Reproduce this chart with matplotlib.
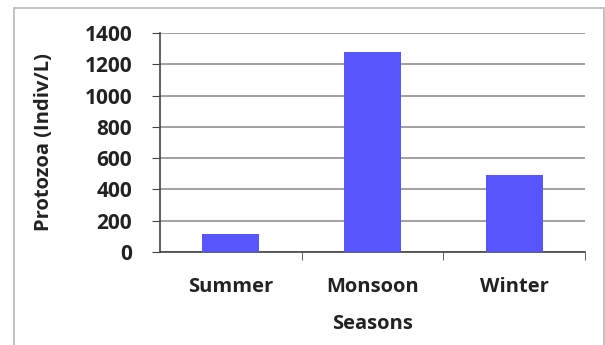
import matplotlib.pyplot as plt
from matplotlib.patches import Rectangle

seasons = ["Summer", "Monsoon", "Winter"]
protozoa = [115, 1277, 492]
yticks = [0, 200, 400, 600, 800, 1000, 1200, 1400]

plt.rcParams['font.family'] = ['Open Sans', 'DejaVu Sans']
plt.rcParams['font.weight'] = 'bold'

fig = plt.figure(figsize=(6.05, 3.45), dpi=100)
ax = fig.add_axes([160/605, 1 - 252/345, 425/605, 219/345])

# light grey frame round the whole chart
fig.patches.append(Rectangle((14/605, -0.05), 590/605, 1.05 - 8/345, transform=fig.transFigure,
                             fill=False, edgecolor='#b8b8b8', lw=1.2))

x = range(len(seasons))
ax.bar(x, protozoa, width=0.4, color='#5656fc', zorder=3)

ax.set_xlim(-0.5, 2.5)
ax.set_ylim(0, 1400)
ax.set_yticks(yticks)
ax.set_xticks(x)
ax.set_xticklabels(seasons, fontsize=14.5, fontweight='bold', color='#222222')
ax.tick_params(axis='x', length=0, pad=18)
ax.set_xticks([0.5, 1.5, 2.5], minor=True)
ax.tick_params(axis='x', which='minor', length=6, direction='out', color='#444444')
ax.tick_params(axis='y', length=6, direction='out', color='#444444', labelsize=15,
               labelcolor='#222222', pad=14)
for lab in ax.get_yticklabels():
    lab.set_fontweight('bold')

ax.grid(axis='y', color='#909090', lw=1.2, zorder=0)
for s in ['top', 'right']:
    ax.spines[s].set_visible(False)
ax.spines['left'].set_color('#444444')
ax.spines['bottom'].set_color('#444444')
ax.spines['left'].set_linewidth(1.2)
ax.spines['bottom'].set_linewidth(1.2)

ax.set_ylabel('Protozoa (Indiv/L)', fontsize=14.5, fontweight='bold', color='#222222', labelpad=22)
ax.set_xlabel('Seasons', fontsize=14.5, fontweight='bold', color='#222222', labelpad=12)

fig.savefig('out.png', dpi=100)
